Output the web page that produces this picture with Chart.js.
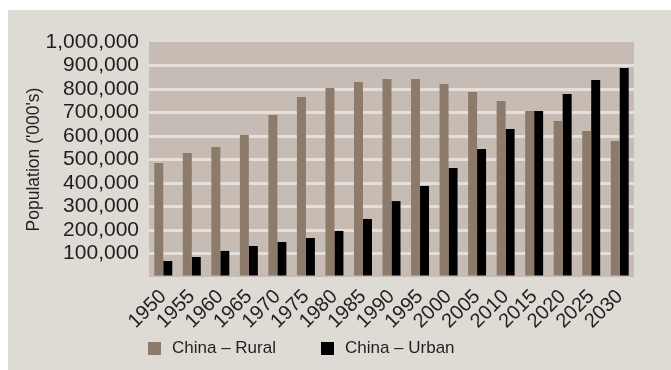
<!DOCTYPE html>
<html>
<head>
<meta charset="utf-8">
<script src="https://cdn.jsdelivr.net/npm/chart.js@4"></script>
<style>
  body { margin: 0; background: #fff; width: 671px; height: 370px; overflow: hidden; }
  #panel { position: absolute; left: 8px; top: 10px; width: 663px; height: 360px; background: #dedad4; }
  #panel canvas { position: absolute; left: 0; top: 0; }
  #legend { position: absolute; left: 140px; top: 328px; display: flex; font-family: "Liberation Sans", Arial, sans-serif; font-size: 17px; color: #231f20; }
  #legend .item { display: flex; align-items: center; margin-right: 45px; }
  #legend .box { width: 13px; height: 13px; margin-right: 11px; }
</style>
</head>
<body>
<div id="panel">
  <canvas id="chart" width="663" height="360"></canvas>
  <div id="legend"></div>
</div>
<script>
// Data
const years = ['1950', '1955', '1960', '1965', '1970', '1975', '1980', '1985', '1990',
               '1995', '2000', '2005', '2010', '2015', '2020', '2025', '2030'];
const rural = [485000, 528000, 553000, 604000, 689000, 766000, 804000, 830000, 843000,
               843000, 821000, 787000, 749000, 706000, 664000, 621000, 579000];
const urban = [68000, 85000, 111000, 132000, 149000, 166000, 196000, 247000, 323000,
               387000, 464000, 545000, 630000, 706000, 779000, 838000, 889000];
const yMax = 1000000;
const yStep = 100000;

const textColor = '#231f20';
const font = '"Liberation Sans", Arial, sans-serif';

// Fill the plot area behind the grid
const plotBackground = {
    id: 'plotBackground',
    beforeDraw(chart) {
        const { ctx, chartArea: a } = chart;
        ctx.save();
        ctx.fillStyle = '#c7bcb3';
        ctx.fillRect(a.left, a.top, a.right - a.left, a.bottom - a.top);
        ctx.restore();
    }
};

const chart = new Chart(document.getElementById('chart'), {
    type: 'bar',
    data: {
        labels: years,
        datasets: [
            { label: 'China \u2013 Rural', data: rural, backgroundColor: '#8c7a6b' },
            { label: 'China \u2013 Urban', data: urban, backgroundColor: '#000000' }
        ]
    },
    options: {
        responsive: false,
        animation: false,
        layout: { padding: { left: 0, top: 32, right: 37, bottom: 33 } },
        datasets: { bar: { categoryPercentage: 0.63, barPercentage: 1.0 } },
        plugins: { legend: { display: false }, tooltip: { enabled: false } },
        scales: {
            x: {
                grid: { display: false },
                border: { display: false },
                ticks: {
                    color: textColor,
                    font: { family: font, size: 20 },
                    minRotation: 45,
                    maxRotation: 45,
                    autoSkip: false,
                    padding: 0
                },
                afterFit(scale) { scale.height = 60; }
            },
            y: {
                min: 0,
                max: yMax,
                border: { display: false },
                grid: {
                    drawTicks: false,
                    lineWidth: 3,
                    color: ctx => (ctx.tick.value === 0 || ctx.tick.value === yMax) ? 'rgba(0,0,0,0)' : '#e4dfda'
                },
                ticks: {
                    stepSize: yStep,
                    autoSkip: false,
                    padding: 10,
                    color: textColor,
                    font: { family: font, size: 21 },
                    callback: v => v === 0 ? '' : v.toLocaleString('en-US')
                },
                title: {
                    display: true,
                    text: "Population ('000's)",
                    color: textColor,
                    font: { family: font, size: 17.5 },
                    padding: { top: 16, bottom: 0 }
                },
                afterFit(scale) { scale.width = 141; }
            }
        }
    },
    plugins: [plotBackground]
});

// Legend built from the chart's own dataset labels
function displayLegend() {
    const items = chart.options.plugins.legend.labels.generateLabels(chart);
    document.getElementById('legend').innerHTML = items.map(it =>
        `<div class="item"><span class="box" style="background:${it.fillStyle}"></span>${it.text}</div>`
    ).join('');
}

displayLegend();
</script>
</body>
</html>
